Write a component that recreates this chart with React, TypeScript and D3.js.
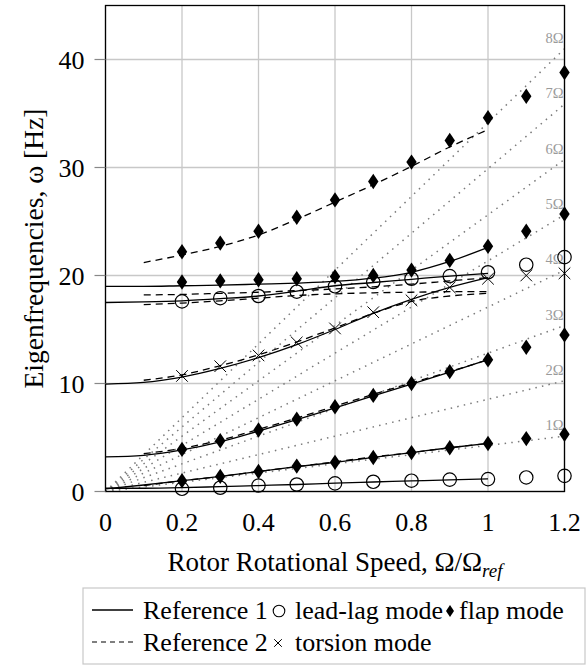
import React from 'react';
import * as d3 from 'd3';

// ---------- data ----------
const xTicks = [0, 0.2, 0.4, 0.6, 0.8, 1, 1.2];
const xTickLabels = ['0', '0.2', '0.4', '0.6', '0.8', '1', '1.2'];
const yTicks = [0, 10, 20, 30, 40];

// measured points (markers)
const markerX = [0.2, 0.3, 0.4, 0.5, 0.6, 0.7, 0.8, 0.9, 1.0, 1.1, 1.2];
const flapTopPts = [22.2, 23.0, 24.1, 25.4, 27.0, 28.7, 30.5, 32.5, 34.6, 36.6, 38.8];
const flap2Pts = [19.4, 19.5, 19.6, 19.7, 19.9, 20.0, 20.5, 21.4, 22.7, 24.1, 25.7];
const leadLag2Pts = [17.6, 17.9, 18.1, 18.5, 19.0, 19.4, 19.7, 19.95, 20.3, 21.0, 21.7];
const torsionPts = [10.7, 11.6, 12.6, 13.8, 15.1, 16.6, 17.7, 18.9, 19.7, 20.0, 20.2];
const flap3Pts = [3.9, 4.7, 5.7, 6.7, 7.85, 8.9, 10.0, 11.1, 12.2, 13.35, 14.5];
const flap1Pts = [1.0, 1.4, 1.85, 2.35, 2.7, 3.15, 3.6, 4.05, 4.45, 4.9, 5.3];
const leadLag1Pts = [0.25, 0.35, 0.55, 0.65, 0.75, 0.9, 1.0, 1.1, 1.15, 1.3, 1.45];

// Reference 1 (solid), x = 0 .. 1.0
const ref1X = [0, 0.1, 0.2, 0.3, 0.4, 0.5, 0.6, 0.7, 0.8, 0.9, 1.0];
const ref1Flap2 = [19.0, 19.0, 19.05, 19.1, 19.2, 19.3, 19.45, 19.75, 20.3, 21.3, 22.6];
const ref1LeadLag2 = [17.5, 17.55, 17.65, 17.85, 18.1, 18.55, 19.05, 19.35, 19.65, 19.95, 20.2];
const ref1Torsion = [9.95, 10.1, 10.6, 11.4, 12.4, 13.6, 15.0, 16.5, 17.8, 18.9, 19.8];
const ref1Flap3 = [3.2, 3.35, 3.85, 4.6, 5.6, 6.65, 7.75, 8.85, 9.95, 11.05, 12.2];
const ref1Flap1 = [0.25, 0.6, 1.0, 1.4, 1.85, 2.3, 2.7, 3.15, 3.6, 4.05, 4.45];
const ref1LeadLag1 = [0.3, 0.3, 0.35, 0.45, 0.55, 0.65, 0.78, 0.88, 0.98, 1.08, 1.16];

// Reference 2 (dashed), x = 0.1 .. 1.0
const ref2X = [0.1, 0.2, 0.3, 0.4, 0.5, 0.6, 0.7, 0.8, 0.9, 1.0];
const ref2FlapTop = [21.2, 21.9, 22.7, 23.75, 25.2, 26.8, 28.4, 30.1, 31.9, 33.5];
const ref2Flap2 = [18.2, 18.25, 18.35, 18.45, 18.6, 18.75, 18.95, 19.2, 19.5, 19.8];
const ref2LeadLag2 = [17.3, 17.45, 17.65, 17.9, 18.15, 18.3, 18.4, 18.45, 18.5, 18.5];
const ref2Torsion = [10.3, 10.8, 11.65, 12.65, 13.85, 15.15, 16.5, 17.6, 18.1, 18.35];
const ref2Flap3 = [3.5, 4.0, 4.75, 5.75, 6.8, 7.9, 9.0, 10.05, 11.1, 12.2];
const ref2Flap1 = [0.55, 1.0, 1.4, 1.85, 2.3, 2.75, 3.2, 3.6, 4.05, 4.45];

// rotor harmonics nΩ
const harmonics = [1, 2, 3, 4, 5, 6, 7, 8];
const omegaRefHz = 4.27;

const FONT = '"Liberation Serif", "Times New Roman", serif';

export default function App() {
  const W = 587, H = 666;
  const x = d3.scaleLinear().domain([0, 1.2]).range([105.5, 564.5]);
  const y = d3.scaleLinear().domain([0, 45]).range([491.5, 5.5]);
  const [x0, x1] = x.range();
  const [y0, y1] = y.range();

  const line = d3.line<[number, number]>()
    .x(d => x(d[0]))
    .y(d => y(d[1]))
    .curve(d3.curveMonotoneX);
  const straight = d3.line<[number, number]>()
    .x(d => x(d[0]))
    .y(d => y(d[1]));

  const zip = (xs: number[], ys: number[]) => xs.map((v, i) => [v, ys[i]] as [number, number]);

  const ref1 = [ref1Flap2, ref1LeadLag2, ref1Torsion, ref1Flap3, ref1Flap1, ref1LeadLag1];
  const ref2 = [ref2FlapTop, ref2Flap2, ref2LeadLag2, ref2Torsion, ref2Flap3, ref2Flap1];
  const diamonds = [flapTopPts, flap2Pts, flap3Pts, flap1Pts];
  const circles = [leadLag2Pts, leadLag1Pts];

  const diamond = (cx: number, cy: number, w: number, h: number) =>
    `M${cx},${cy - h}L${cx + w},${cy}L${cx},${cy + h}L${cx - w},${cy}Z`;
  const cross = (cx: number, cy: number, s: number) =>
    `M${cx - s},${cy - s}L${cx + s},${cy + s}M${cx - s},${cy + s}L${cx + s},${cy - s}`;

  return (
    <svg width={W} height={H} style={{ position: 'absolute', left: 0, top: 0, background: '#fff' }}
      fontFamily={FONT}>
      <defs>
        <clipPath id="plotclip">
          <rect x={x0} y={y1} width={x1 - x0} height={y0 - y1} />
        </clipPath>
      </defs>
      {/* grid */}
      {xTicks.map((t, i) => (
        <line key={'gx' + i} x1={x(t)} x2={x(t)} y1={y0} y2={y1} stroke="#c8c8c8" strokeWidth={1.3} />
      ))}
      {yTicks.map((t, i) => (
        <line key={'gy' + i} x1={x0} x2={x1} y1={y(t)} y2={y(t)} stroke="#c8c8c8" strokeWidth={1.3} />
      ))}
      {/* harmonic lines */}
      <g clipPath="url(#plotclip)">
        {harmonics.map(n => (
          <path key={'h' + n}
            d={straight([[0, 0], [1.2, n * omegaRefHz * 1.2]]) || ''}
            fill="none" stroke="#7a7a7a" strokeWidth={1.5} strokeDasharray="1.5 5.2" />
        ))}
      </g>
      {harmonics.map(n => (
        <text key={'hl' + n} x={x(1.2) - 1} y={y(n * omegaRefHz * 1.2) - 11} textAnchor="end"
          dy="0.35em" fontSize={14.5} fill="#9a9a9a">{n}Ω</text>
      ))}
      {/* reference lines */}
      {ref1.map((s, i) => (
        <path key={'r1' + i} d={line(zip(ref1X, s)) || ''} fill="none"
          stroke="#000" strokeWidth={1.3} />
      ))}
      {ref2.map((s, i) => (
        <path key={'r2' + i} d={line(zip(ref2X, s)) || ''} fill="none"
          stroke="#000" strokeWidth={1.3} strokeDasharray="7 5" />
      ))}
      {/* markers */}
      {diamonds.map((s, i) => s.map((v, j) => (
        <path key={'d' + i + '_' + j} d={diamond(x(markerX[j]), y(v), 5.2, 7.7)} fill="#000" />
      )))}
      {circles.map((s, i) => s.map((v, j) => (
        <circle key={'c' + i + '_' + j} cx={x(markerX[j])} cy={y(v)} r={6.7} fill="none" stroke="#000" strokeWidth={1.2} />
      )))}
      {torsionPts.map((v, j) => (
        <path key={'x' + j} d={cross(x(markerX[j]), y(v), 5.8)} fill="none" stroke="#000" strokeWidth={1} />
      ))}
      {/* frame */}
      <rect x={x0} y={y1} width={x1 - x0} height={y0 - y1} fill="none" stroke="#000" strokeWidth={1.3} />
      {/* y ticks */}
      {yTicks.map((t, i) => (
        <g key={'yt' + i}>
          <line x1={x0 - 11} x2={x0} y1={y(t)} y2={y(t)} stroke="#888" strokeWidth={1.2} />
          <text x={x0 - 21} y={y(t)} dy="0.35em" textAnchor="end" fontSize={26}>{t}</text>
        </g>
      ))}
      {xTicks.map((t, i) => (
        <text key={'xt' + i} x={x(t)} y={522} dy="0.35em" textAnchor="middle" fontSize={26}>{xTickLabels[i]}</text>
      ))}
      {/* axis titles */}
      <text x={(x0 + x1) / 2} y={562} dy="0.35em" textAnchor="middle" fontSize={27}>
        Rotor Rotational Speed, Ω/Ω<tspan fontStyle="italic" fontSize={19} dy="6">ref</tspan>
      </text>
      <text transform={`translate(33,${(y0 + y1) / 2}) rotate(-90)`} dy="0.35em" textAnchor="middle" fontSize={27.5}>
        Eigenfrequencies, ω [Hz]
      </text>
      {/* legend */}
      <g>
        <rect x={83} y={588} width={502} height={76} fill="#fff" stroke="#c8c8c8" strokeWidth={1.2} />
        <line x1={92} x2={133} y1={610} y2={610} stroke="#000" strokeWidth={1.3} />
        <text x={143} y={610} dy="0.35em" fontSize={26}>Reference 1</text>
        <circle cx={279} cy={611} r={5.8} fill="none" stroke="#000" strokeWidth={1.1} />
        <text x={295} y={610} dy="0.35em" fontSize={26}>lead-lag mode</text>
        <path d={diamond(450, 611, 4, 6)} fill="#000" />
        <text x={459} y={610} dy="0.35em" fontSize={26}>flap mode</text>
        <line x1={92} x2={133} y1={642} y2={642} stroke="#000" strokeWidth={1.1} strokeDasharray="5 4" />
        <text x={143} y={642} dy="0.35em" fontSize={26}>Reference 2</text>
        <path d={cross(278, 643, 3.8)} fill="none" stroke="#000" strokeWidth={1} />
        <text x={295} y={642} dy="0.35em" fontSize={26}>torsion mode</text>
      </g>
    </svg>
  );
}
